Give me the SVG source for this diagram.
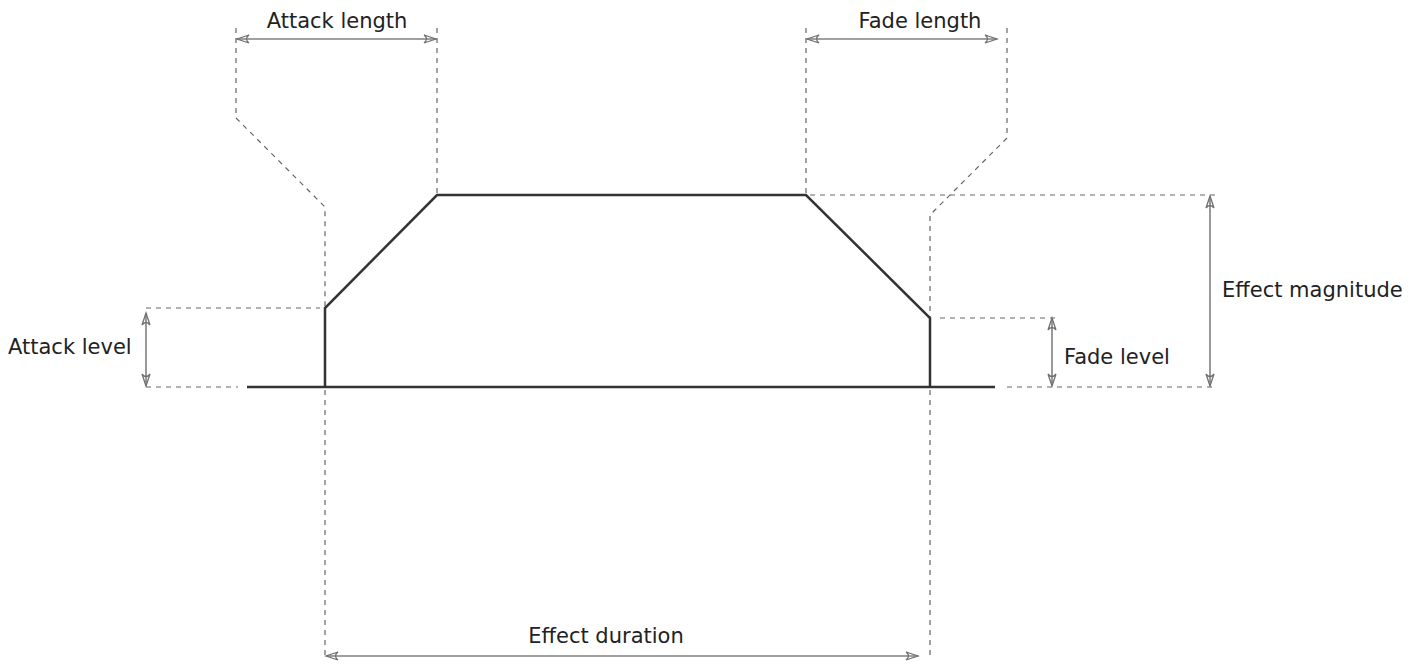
<svg xmlns="http://www.w3.org/2000/svg" width="1425" height="664" viewBox="0 0 1425 664">
<style>
.dash{fill:none;stroke:#666;stroke-width:1.2;stroke-dasharray:5,5}
.env{fill:none;stroke:#333;stroke-width:2.5;stroke-linejoin:miter}
.dim{fill:none;stroke:#808080;stroke-width:1.6}
.lbl{font-family:"DejaVu Sans",sans-serif;font-size:21px;fill:#222}
</style>
<defs>
<marker id="ah" markerWidth="16" markerHeight="10" viewBox="-14 -5 16 10" refX="0" refY="0" orient="auto-start-reverse" markerUnits="userSpaceOnUse">
<path d="M-12,-4 L0,0 L-12,4 M-12,-4 Q-7,0 -12,4" fill="none" stroke="#707070" stroke-width="1.3"/>
</marker>
</defs>
<g id="guides">
<path class="dash" d="M236,28 V118 L325,207 V308"/>
<path class="dash" d="M437,28 V195"/>
<path class="dash" d="M806,28 V195"/>
<path class="dash" d="M1007,28 V138 L930,215 V318"/>
<path class="dash" d="M325,390 V660"/>
<path class="dash" d="M930,390 V660"/>
<path class="dash" d="M810,195 H1217"/>
<path class="dash" d="M146,308 H320"/>
<path class="dash" d="M146,387 H238"/>
<path class="dash" d="M940,318 H1056"/>
<path class="dash" d="M1007,387 H1217"/>
</g>
<g id="envelope">
<path class="env" d="M247,387 H995"/>
<path class="env" d="M325,387 V308 L437,195 H806 L930,318 V387"/>
</g>
<g id="connectors">
<path class="dim" d="M237,39 H436" marker-start="url(#ah)" marker-end="url(#ah)"/>
<path class="dim" d="M807,39 H997" marker-start="url(#ah)" marker-end="url(#ah)"/>
<path class="dim" d="M146,313 V386" marker-start="url(#ah)" marker-end="url(#ah)"/>
<path class="dim" d="M1052,318 V386" marker-start="url(#ah)" marker-end="url(#ah)"/>
<path class="dim" d="M1210,196 V386" marker-start="url(#ah)" marker-end="url(#ah)"/>
<path class="dim" d="M326,656 H918" marker-start="url(#ah)" marker-end="url(#ah)"/>
</g>
<g id="labels">
<text class="lbl" x="337" y="28" text-anchor="middle">Attack length</text>
<text class="lbl" x="920" y="28" text-anchor="middle">Fade length</text>
<text class="lbl" x="8" y="354">Attack level</text>
<text class="lbl" x="1064" y="364">Fade level</text>
<text class="lbl" x="1222" y="297">Effect magnitude</text>
<text class="lbl" x="606" y="643" text-anchor="middle">Effect duration</text>
</g>
</svg>
